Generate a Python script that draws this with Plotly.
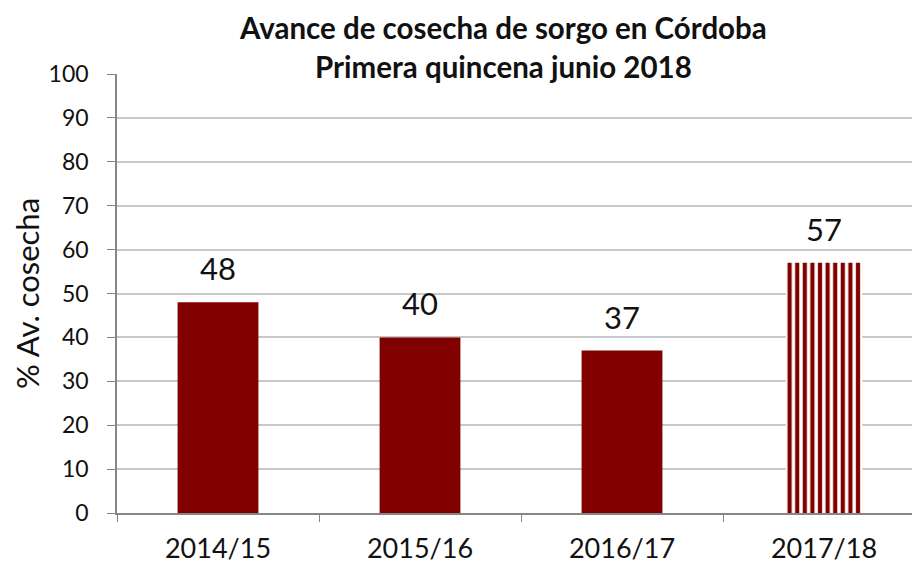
import plotly.graph_objects as go

categories = ["2014/15", "2015/16", "2016/17", "2017/18"]
values = [48, 40, 37, 57]
title_lines = ["Avance de cosecha de sorgo en Córdoba", "Primera quincena junio 2018"]
y_title = "% Av. cosecha"
y_ticks = list(range(0, 101, 10))

DARK_RED = "#800000"
FONT = "Lato"
TXT = "#111111"

# The page body adds an 8 px offset; pixel targets below are page pixels.
OFF = 8
W, H = 920, 568
L, T, B = 117 - OFF, 74 - OFF, H - (513 - OFF)
R = 3

fig = go.Figure()
fig.add_trace(go.Bar(
    x=categories[:-1], y=values[:-1], width=0.4,
    marker=dict(color=DARK_RED, line=dict(width=0)),
    showlegend=False, hoverinfo="x+y",
))
fig.add_trace(go.Bar(
    x=categories[-1:], y=values[-1:], width=0.38,
    marker=dict(color="white", line=dict(width=0),
                pattern=dict(shape="|", fgcolor=DARK_RED, bgcolor="white",
                             size=7.6, solidity=0.55, fillmode="replace")),
    showlegend=False, hoverinfo="x+y",
))

pw = W - L - R
ph = H - T - B
annotations = []
for c, v in zip(categories, values):
    annotations.append(dict(x=c, y=v, xref="x", yref="y", text=str(v),
                            showarrow=False, yanchor="bottom", yshift=13,
                            font=dict(family=FONT, size=31, color=TXT)))
title_y_px = [27, 66]
for line, ypx in zip(title_lines, title_y_px):
    annotations.append(dict(x=(503 - OFF - L) / pw, y=(H - B - (ypx - OFF)) / ph,
                            xref="paper", yref="paper",
                            text="<b>" + line + "</b>", showarrow=False,
                            xanchor="center", yanchor="middle",
                            font=dict(family=FONT, size=29.5, color=TXT)))

fig.update_layout(
    width=W, height=H,
    margin=dict(l=L, r=R, t=T, b=B),
    paper_bgcolor="white", plot_bgcolor="white",
    annotations=annotations,
)

fig.update_xaxes(
    range=[-0.5, 3.5], tickson="boundaries", ticks="outside", ticklen=7,
    tickcolor="#868686", showline=True, linecolor="#868686", linewidth=1.5,
    showgrid=False, tickfont=dict(family=FONT, size=27, color=TXT),
    ticklabelstandoff=11, fixedrange=True, automargin=False,
)
fig.update_yaxes(
    range=[0, 100], tickvals=y_ticks, ticks="outside", ticklen=8,
    tickcolor="#868686", showline=True, linecolor="#868686", linewidth=1.5,
    showgrid=True, gridcolor="#C8C8C8", gridwidth=1.5, zeroline=False,
    tickfont=dict(family=FONT, size=23, color=TXT), ticklabelstandoff=14,
    title=dict(text=y_title, font=dict(family=FONT, size=31, color=TXT), standoff=14),
    fixedrange=True, automargin=False,
)

fig.write_html("out.html")
